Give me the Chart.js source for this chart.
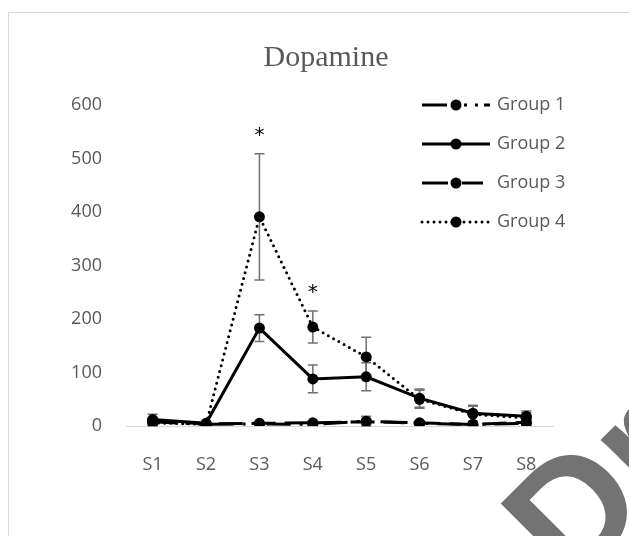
<!DOCTYPE html>
<html>
<head>
<meta charset="utf-8">
<script src="https://cdn.jsdelivr.net/npm/chart.js@4"></script>
<style>
  html, body { margin: 0; padding: 0; background: #fff; overflow: hidden; }
  #wrap { position: relative; width: 629px; height: 536px; }
</style>
</head>
<body>
<div id="wrap"><canvas id="dopamineChart"></canvas></div>
<script>
// data
const categories = ['S1', 'S2', 'S3', 'S4', 'S5', 'S6', 'S7', 'S8'];
const seriesNames = ['Group 1', 'Group 2', 'Group 3', 'Group 4'];
const group1 = [8, 3, 4, 3, 9, 5, 3, 5];
const group2 = [12, 5, 183, 88, 92, 52, 24, 18];
const group3 = [10, 4, 5, 6, 8, 6, 3, 7];
const group4 = [6, 3, 391, 185, 129, 50, 22, 15];
const err1 = [6, 2, 2, 2, 9, 4, 2, 3];
const err2 = [4, 2, 25, 26, 26, 17, 15, 10];
const err3 = [12, 2, 2, 3, 5, 4, 2, 4];
const err4 = [3, 1, 118, 30, 37, 17, 15, 10];
const stars4 = ['', '', '*', '*', '', '', '', ''];
const yTicks = [0, 100, 200, 300, 400, 500, 600];

const textGrey = '#595959';
const tickFont = { family: "'Open Sans'", size: 18 };

// legend line samples (Excel splits the sample round the marker)
const legendDash = [
    [25, 17, 3, 8, 3, 6, 6, 100],
    [],
    [26, 14, 21, 100],
    [0, 6]
];

function makeSet(i, values, errs, dash, cap, order) {
    return {
        label: seriesNames[i],
        data: values,
        errors: errs,
        borderColor: '#000',
        backgroundColor: '#000',
        borderWidth: 3,
        borderDash: dash,
        borderCapStyle: cap,
        pointRadius: 5.5,
        pointHoverRadius: 5.5,
        pointBorderWidth: 0,
        pointBackgroundColor: '#000',
        tension: 0,
        fill: false,
        order: order
    };
}

const datasets = [
    makeSet(0, group1, err1, [24, 9, 3, 9, 3, 9], 'butt', 3),
    makeSet(1, group2, err2, [], 'butt', 2),
    makeSet(2, group3, err3, [24, 9], 'butt', 1),
    makeSet(3, group4, err4, [0, 6], 'round', 0)
];

// grey frame, title and error bars behind the lines
const backdrop = {
    id: 'backdrop',
    beforeDraw(chart) {
        const ctx = chart.ctx;
        ctx.save();
        ctx.strokeStyle = '#d9d9d9';
        ctx.lineWidth = 1;
        ctx.strokeRect(8.5, 12.5, 800, 800);
        ctx.fillStyle = textGrey;
        ctx.font = "30px 'Liberation Serif'";
        ctx.textAlign = 'center';
        ctx.textBaseline = 'alphabetic';
        ctx.fillText('Dopamine', 326, 66);
        ctx.restore();
    },
    beforeDatasetsDraw(chart) {
        const ctx = chart.ctx;
        const y = chart.scales.y;
        ctx.save();
        ctx.strokeStyle = '#707070';
        ctx.lineWidth = 1.5;
        chart.data.datasets.forEach((ds, di) => {
            const meta = chart.getDatasetMeta(di);
            meta.data.forEach((pt, i) => {
                const e = ds.errors[i];
                if (!e) return;
                const top = y.getPixelForValue(ds.data[i] + e);
                const bot = y.getPixelForValue(Math.max(ds.data[i] - e, 0));
                ctx.beginPath();
                ctx.moveTo(pt.x, top); ctx.lineTo(pt.x, bot);
                ctx.moveTo(pt.x - 5, top); ctx.lineTo(pt.x + 5, top);
                ctx.moveTo(pt.x - 5, bot); ctx.lineTo(pt.x + 5, bot);
                ctx.stroke();
            });
        });
        ctx.restore();
    }
};

// legend inside the plot, stars, watermark
const overlay = {
    id: 'overlay',
    afterDraw(chart) {
        const ctx = chart.ctx;
        const y = chart.scales.y;
        ctx.save();
        // significance stars for group 4
        const meta4 = chart.getDatasetMeta(3);
        ctx.fillStyle = '#000';
        ctx.font = "20px 'DejaVu Sans'";
        ctx.textAlign = 'center';
        ctx.textBaseline = 'middle';
        stars4.forEach((s, i) => {
            if (!s) return;
            const top = y.getPixelForValue(group4[i] + err4[i]);
            ctx.fillText(s, meta4.data[i].x, top - 18);
        });

        // legend
        const rows = [105, 144, 183, 222];
        chart.data.datasets.forEach((ds, i) => {
            const ly = rows[i];
            ctx.strokeStyle = '#000';
            ctx.lineWidth = 3;
            ctx.lineCap = ds.borderCapStyle;
            ctx.setLineDash(legendDash[i]);
            ctx.beginPath();
            ctx.moveTo(422, ly); ctx.lineTo(490, ly);
            ctx.stroke();
            ctx.setLineDash([]);
            ctx.beginPath();
            ctx.arc(456, ly, 5.5, 0, Math.PI * 2);
            ctx.fillStyle = '#000';
            ctx.fill();
            ctx.fillStyle = textGrey;
            ctx.font = "18px 'Open Sans'";
            ctx.textAlign = 'left';
            ctx.fillText(ds.label, 497, ly);
        });

        // watermark
        ctx.translate(571, 589);
        ctx.rotate(-45 * Math.PI / 180);
        ctx.fillStyle = '#737373';
        ctx.font = "bold 160px 'Liberation Sans'";
        ctx.textAlign = 'left';
        ctx.textBaseline = 'alphabetic';
        ctx.fillText('Draft', 0, 0);
        ctx.restore();
    }
};

new Chart(document.getElementById('dopamineChart'), {
    type: 'line',
    data: { labels: categories, datasets: datasets },
    plugins: [backdrop, overlay],
    options: {
        responsive: true,
        maintainAspectRatio: false,
        animation: false,
        events: [],
        layout: { padding: { left: 0, right: 76, top: 105, bottom: 0 } },
        plugins: { legend: { display: false }, tooltip: { enabled: false } },
        scales: {
            x: {
                offset: true,
                grid: { display: false, drawTicks: false },
                border: { display: true, color: '#d9d9d9', width: 1 },
                ticks: { color: textGrey, font: tickFont, padding: 28, maxRotation: 0 },
                afterFit(s) { s.height = 110; }
            },
            y: {
                min: 0,
                max: 600,
                grid: { display: false, drawTicks: false },
                border: { display: false },
                afterBuildTicks(s) { s.ticks = yTicks.map(v => ({ value: v })); },
                ticks: { color: textGrey, font: tickFont, padding: 24 },
                afterFit(s) { s.width = 126; }
            }
        }
    }
});
</script>
</body>
</html>
